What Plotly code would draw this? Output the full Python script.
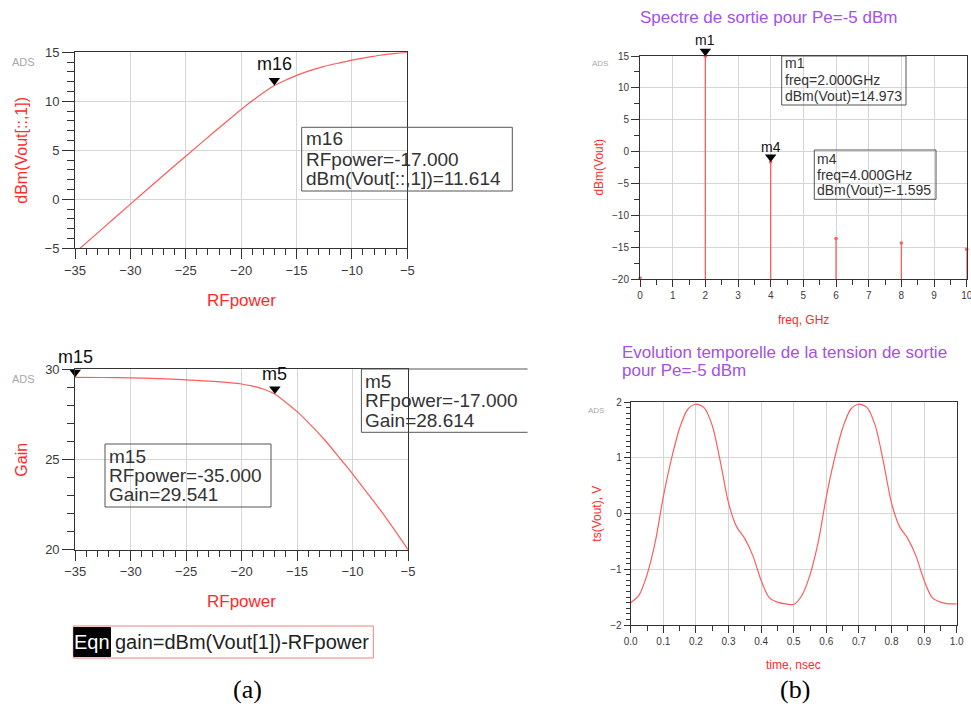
import plotly.graph_objects as go

# ---------------- data ----------------
rf_power = [-35, -32.5, -30, -27.5, -25, -22.5, -20, -19, -18, -17, -16, -15, -14,
            -12.5, -11, -10, -8.5, -7.5, -6, -5]
dbm_out = [-5.46, -2.97, -0.49, 1.97, 4.40, 6.81, 9.17, 10.05, 10.88, 11.614, 12.15,
           12.64, 13.05, 13.57, 13.95, 14.20, 14.50, 14.70, 14.90, 15.00]
gain = [29.541, 29.53, 29.51, 29.47, 29.40, 29.31, 29.17, 29.05, 28.88, 28.614, 28.15,
        27.64, 27.05, 26.07, 24.95, 24.20, 23.00, 22.20, 20.90, 20.00]

freq_ghz = [0, 2, 4, 6, 8, 10]
spec_dbm = [-19.8, 14.973, -1.595, -13.6, -14.3, -15.3]

time_ns = [0.0, 0.025, 0.05, 0.075, 0.1, 0.125, 0.15, 0.175, 0.2, 0.225, 0.25, 0.275,
           0.3, 0.325, 0.35, 0.375, 0.4, 0.425, 0.45, 0.475, 0.5, 0.525, 0.55, 0.575,
           0.6, 0.625, 0.65, 0.675, 0.7, 0.725, 0.75, 0.775, 0.8, 0.825, 0.85, 0.875,
           0.9, 0.925, 0.95, 0.975, 1.0]
vout_v = [-1.60, -1.47, -1.10, -0.52, 0.30, 0.98, 1.53, 1.87, 1.96, 1.90, 1.58, 0.93,
          0.19, -0.24, -0.45, -0.76, -1.20, -1.51, -1.59, -1.62, -1.63, -1.47, -1.10,
          -0.52, 0.30, 0.98, 1.53, 1.87, 1.96, 1.90, 1.58, 0.93, 0.19, -0.24, -0.45,
          -0.76, -1.20, -1.51, -1.59, -1.62, -1.62]

# marker readouts
m16 = (-17.0, 11.614)
m15 = (-35.0, 29.541)
m5 = (-17.0, 28.614)
m1 = (2.0, 14.973)
m4 = (4.0, -1.595)

# ---------------- style ----------------
W, H = 971, 713
FONT = "Liberation Sans, Arial, sans-serif"
RED = "#FF5C5C"
TITLE_RED = "#FF2A2A"
PURPLE = "#A650E6"
TXT = "#333333"


def px(x):
    return x / W


def py(y):
    return 1 - y / H


def axis(dom, rng, dtick, mdtick, tlen, mlen, fs, anchor, fmt=None):
    d = dict(domain=dom, range=rng, anchor=anchor, dtick=dtick, tick0=0,
             automargin=False, ticklabeloverflow="allow",
             showline=True, mirror=True, linecolor="#333", linewidth=1,
             showgrid=True, gridcolor="#D6D6D6", gridwidth=1, zeroline=False,
             ticks="outside", ticklen=tlen, tickcolor="#333", tickwidth=1,
             minor=dict(dtick=mdtick, tick0=0, ticks="outside", ticklen=mlen,
                        tickcolor="#333", showgrid=False),
             tickfont=dict(family=FONT, size=fs, color="#3a3a3a"))
    if fmt:
        d["tickformat"] = fmt
    return d


fig = go.Figure()

# top-left: output power
fig.add_trace(go.Scatter(x=rf_power, y=dbm_out, mode="lines",
                         line=dict(color=RED, width=1.2, shape="spline", smoothing=0.6),
                         xaxis="x", yaxis="y", hoverinfo="skip"))
# bottom-left: gain
fig.add_trace(go.Scatter(x=rf_power, y=gain, mode="lines",
                         line=dict(color=RED, width=1.2, shape="spline", smoothing=0.6),
                         xaxis="x3", yaxis="y3", hoverinfo="skip"))
# top-right: spectrum stems
sx, sy = [], []
for f, v in zip(freq_ghz, spec_dbm):
    sx += [f, f, None]
    sy += [-20, v, None]
fig.add_trace(go.Scatter(x=sx, y=sy, mode="lines", line=dict(color=RED, width=1.3),
                         xaxis="x2", yaxis="y2", hoverinfo="skip"))
fig.add_trace(go.Scatter(x=freq_ghz, y=spec_dbm, mode="markers",
                         marker=dict(color=RED, size=3.5), cliponaxis=False,
                         xaxis="x2", yaxis="y2", hoverinfo="skip"))
# bottom-right: time domain
fig.add_trace(go.Scatter(x=time_ns, y=vout_v, mode="lines",
                         line=dict(color=RED, width=1.2, shape="spline", smoothing=0.8),
                         xaxis="x4", yaxis="y4", hoverinfo="skip"))

# marker triangles (pointing down, tip on the data point)
for (mx, my), xa, ya in [(m16, "x", "y"), (m15, "x3", "y3"), (m5, "x3", "y3"),
                         (m1, "x2", "y2"), (m4, "x2", "y2")]:
    fig.add_trace(go.Scatter(x=[mx], y=[my], mode="markers", cliponaxis=False,
                             marker=dict(symbol="triangle-up", angle=180, size=10,
                                         color="black", standoff=5),
                             xaxis=xa, yaxis=ya, hoverinfo="skip"))

ann = []
# marker labels
for name, (mx, my), xa, ya, fs, ys in [("m16", m16, "x", "y", 18, 9),
                                       ("m15", m15, "x3", "y3", 18, 8),
                                       ("m5", m5, "x3", "y3", 18, 8),
                                       ("m1", m1, "x2", "y2", 14, 6),
                                       ("m4", m4, "x2", "y2", 14, 5)]:
    ann.append(dict(x=mx, y=my, xref=xa, yref=ya, text=name, showarrow=False,
                    yanchor="bottom", yshift=ys, font=dict(family=FONT, size=fs, color="#111")))


def text(x, y, s, size, color=TXT, xanchor="left", family=FONT, angle=0):
    ann.append(dict(x=px(x), y=py(y), xref="paper", yref="paper", text=s, showarrow=False,
                    xanchor=xanchor, yanchor="middle", textangle=angle,
                    font=dict(family=family, size=size, color=color)))


shapes = []


def rect(x0, y0, x1, y1, color="#555", fill=None, open_right=False):
    if open_right:
        path = f"M{px(x1)},{py(y0)} L{px(x0)},{py(y0)} L{px(x0)},{py(y1)} L{px(x1)},{py(y1)}"
        shapes.append(dict(type="path", xref="paper", yref="paper", path=path,
                           line=dict(color=color, width=1)))
    else:
        shapes.append(dict(type="rect", xref="paper", yref="paper", x0=px(x0), x1=px(x1),
                           y0=py(y0), y1=py(y1), line=dict(color=color, width=1),
                           fillcolor=fill if fill else "rgba(0,0,0,0)"))


# marker readout boxes
rect(301.7, 127.3, 512.3, 191)
text(303.5, 138.5, "m16", 19)
text(303.5, 159.3, f"RFpower={m16[0]:.3f}", 19)
text(303.5, 178.5, f"dBm(Vout[::,1])={m16[1]:.3f}", 19)

rect(105, 444, 271, 507)
text(107, 456, "m15", 19)
text(107, 475.7, f"RFpower={m15[0]:.3f}", 19)
text(107, 494.3, f"Gain={m15[1]:.3f}", 19)

rect(361.4, 369, 527.6, 432.3, open_right=True)
text(363.3, 381, "m5", 19)
text(363.3, 400.7, f"RFpower={m5[0]:.3f}", 19)
text(363.3, 420, f"Gain={m5[1]:.3f}", 19)

rect(781.7, 56, 906, 105)
text(782.5, 63.5, "m1", 14)
text(782.5, 80, f"freq={m1[0]:.3f}GHz", 14)
text(782.5, 95.7, f"dBm(Vout)={m1[1]:.3f}", 14)

rect(814.3, 150, 936, 199.3)
text(815, 159.5, "m4", 14)
text(815, 174.5, f"freq={m4[0]:.3f}GHz", 14)
text(815, 190, f"dBm(Vout)={m4[1]:.3f}", 14)

# equation box
rect(73.3, 626, 373.3, 658, color="#F08080")
rect(73.8, 627.5, 110.5, 656.5, color="black", fill="black")
text(92, 642, "Eqn", 20, color="white", xanchor="center")
text(113, 642, "gain=dBm(Vout[1])-RFpower", 20, color="#222")

# titles
text(768.5, 17, "Spectre de sortie pour Pe=-5 dBm", 17, color=PURPLE, xanchor="center")
text(620, 352, "Evolution temporelle de la tension de sortie", 17, color=PURPLE)
text(620, 370.5, "pour Pe=-5 dBm", 17, color=PURPLE)

# axis titles
text(21.7, 150, "dBm(Vout[::,1])", 16, color=TITLE_RED, xanchor="center", angle=-90)
text(241, 300, "RFpower", 17, color=TITLE_RED, xanchor="center")
text(20.7, 460, "Gain", 16, color=TITLE_RED, xanchor="center", angle=-90)
text(241.4, 601.7, "RFpower", 17, color=TITLE_RED, xanchor="center")
text(599.3, 167.3, "dBm(Vout)", 12, color=TITLE_RED, xanchor="center", angle=-90)
text(803, 320, "freq, GHz", 12, color=TITLE_RED, xanchor="center")
text(596.7, 514, "ts(Vout), V", 12, color=TITLE_RED, xanchor="center", angle=-90)
text(793.3, 665, "time, nsec", 12, color=TITLE_RED, xanchor="center")

# ADS tags
text(23.3, 62.3, "ADS", 11, color="#A8A8A8", xanchor="center")
text(600, 63.3, "ADS", 8, color="#A8A8A8", xanchor="center")
text(23.5, 379.3, "ADS", 11, color="#A8A8A8", xanchor="center")
text(595.7, 410, "ADS", 8, color="#A8A8A8", xanchor="center")

# captions
text(247.5, 689, "(a)", 26, color="black", xanchor="center", family="Liberation Serif, Times New Roman, serif")
text(795, 689, "(b)", 26, color="black", xanchor="center", family="Liberation Serif, Times New Roman, serif")

fig.update_layout(
    width=W, height=H, margin=dict(l=0, r=0, t=0, b=0),
    paper_bgcolor="white", plot_bgcolor="white", showlegend=False,
    xaxis=axis([px(75), px(407.3)], [-35, -5], 5, 1, 10, 6, 13, "y"),
    yaxis=axis([py(248.3), py(52.3)], [-5, 15], 5, 1, 12, 7, 13, "x"),
    xaxis2=axis([px(640), px(966.7)], [0, 10], 1, 0.5, 7, 5, 10, "y2"),
    yaxis2=axis([py(279.3), py(56)], [-20, 15], 5, 2.5, 8, 5, 10, "x2"),
    xaxis3=axis([px(75.2), px(408)], [-35, -5], 5, 1, 10, 6, 13, "y3"),
    yaxis3=axis([py(549.7), py(369)], [20, 30], 5, 1, 12, 7, 13, "x3"),
    xaxis4=axis([px(630.7), px(956.7)], [0, 1], 0.1, 0.05, 7, 5, 10, "y4", ".1f"),
    yaxis4=axis([py(625), py(402)], [-2, 2], 1, 0.1, 6, 4, 10, "x4"),
    annotations=ann, shapes=shapes,
)

fig.write_html("out.html", config={"displayModeBar": False},
               post_script="document.body.style.margin='0px';document.body.style.overflow='hidden';")
